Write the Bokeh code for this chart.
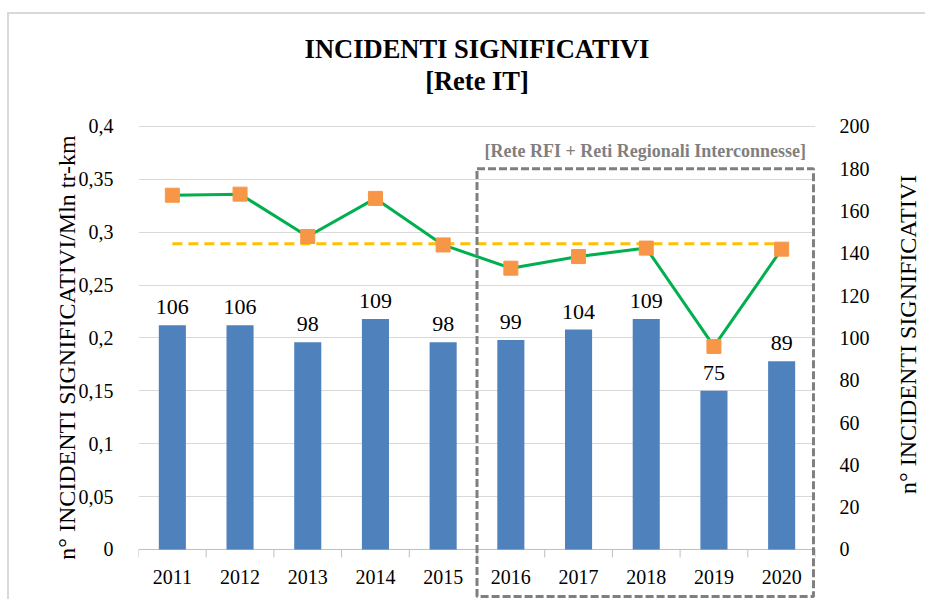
from bokeh.plotting import figure
from bokeh.layouts import row
from bokeh.models import (Range1d, LinearAxis, FixedTicker, CustomJSTickFormatter,
                          BoxAnnotation, Label, ColumnDataSource, Title)
from bokeh.embed import file_html
from bokeh.resources import INLINE
from bokeh.core.properties import value

# ---- data ----
years = ["2011", "2012", "2013", "2014", "2015", "2016", "2017", "2018", "2019", "2020"]
incidents = [106, 106, 98, 109, 98, 99, 104, 109, 75, 89]
rate = [0.335, 0.336, 0.296, 0.332, 0.288, 0.266, 0.277, 0.285, 0.192, 0.284]
rate_mean = 0.289
left_ticks = [0, 0.05, 0.1, 0.15, 0.2, 0.25, 0.3, 0.35, 0.4]
right_ticks = [0, 20, 40, 60, 80, 100, 120, 140, 160, 180, 200]

FONT = "Liberation Serif"
xs = list(range(len(years)))
bounds = [i - 0.5 for i in range(len(years) + 1)]

# frame covers the area from just below the titles to the bottom of the page,
# so the x axis (at 0) and the dashed box can be drawn inside it
Y0, Y1 = -0.0473, 0.4293
K = 200 / 0.4  # ratio between right and left scale
PX = 1057.5    # pixels per left-axis unit
GRID = "#d9d9d9"
BORDER_BG = ("linear-gradient(#d9d9d9, #d9d9d9) 7px 12px / 2px 100% no-repeat, "
             "linear-gradient(#d9d9d9, #d9d9d9) 7px 12px / 100% 2px no-repeat, white")

p = figure(width=880, height=599, x_range=Range1d(-0.5, 9.5), y_range=Range1d(Y0, Y1),
           output_backend="svg", toolbar_location=None,
           min_border_left=138, min_border_right=65, min_border_top=95, min_border_bottom=0)
p.extra_y_ranges = {"n": Range1d(Y0 * K, Y1 * K)}
p.outline_line_color = None
p.background_fill_color = "white"
p.border_fill_color = None
p.styles = {"background": BORDER_BG}

# titles
p.add_layout(Title(text="[Rete IT]", align="center", text_font=FONT,
                   text_font_size="26.5px", text_font_style="bold", text_color="black",
                   standoff=0), "above")
p.add_layout(Title(text="INCIDENTI SIGNIFICATIVI", align="center", text_font=FONT,
                   text_font_size="26.5px", text_font_style="bold", text_color="black",
                   standoff=0), "above")

# grid
p.xgrid.grid_line_color = None
p.ygrid.grid_line_color = GRID
p.ygrid.grid_line_width = 1
p.ygrid.ticker = FixedTicker(ticks=left_ticks[1:])

# left axis
la = p.yaxis[0]
la.ticker = FixedTicker(ticks=left_ticks)
la.formatter = CustomJSTickFormatter(code="""
if (tick == 0) return '0';
let s = tick.toFixed(2);
if (s.endsWith('0')) s = s.slice(0, -1);
return s.replace('.', ',');
""")
la.axis_label = "n° INCIDENTI SIGNIFICATIVI/Mln tr-km"
la.axis_line_color = None
la.major_tick_line_color = None
la.minor_tick_line_color = None
la.major_label_standoff = 19
la.axis_label_standoff = -4
la.major_label_text_font = FONT
la.major_label_text_font_size = "20px"
la.major_label_text_color = "black"
la.axis_label_text_font = FONT
la.axis_label_text_font_size = "24px"
la.axis_label_text_font_style = "normal"
la.axis_label_text_color = "black"

# right axis (ticks only; its title is drawn by the side panel below)
ra = LinearAxis(y_range_name="n", ticker=FixedTicker(ticks=right_ticks))
ra.axis_line_color = None
ra.major_tick_line_color = None
ra.minor_tick_line_color = None
ra.major_label_standoff = 18
ra.major_label_text_font = FONT
ra.major_label_text_font_size = "20px"
ra.major_label_text_color = "black"
p.add_layout(ra, "right")

# bottom axis drawn at y = 0 inside the frame
p.xaxis.visible = False
p.segment(x0=[bounds[0]], y0=[0], x1=[bounds[-1]], y1=[0],
          line_color="#bfbfbf", line_width=1)
p.segment(x0=bounds, y0=[0] * len(bounds), x1=bounds, y1=[-8 / PX] * len(bounds),
          line_color="#bfbfbf", line_width=1)
p.text(x=xs, y=[0] * len(xs), text=years, text_align="center", text_baseline="middle",
       y_offset=28, text_font=value(FONT), text_font_size="20px", text_color="black")

src = ColumnDataSource(dict(x=xs, n=incidents, r=rate, lab=[str(v) for v in incidents]))

# bars
p.vbar(x="x", top="n", bottom=0, width=0.4, source=src, y_range_name="n",
       fill_color="#4f81bd", line_color=None)

# bar labels
p.text(x="x", y="n", text="lab", source=src, y_range_name="n",
       text_align="center", text_baseline="bottom", y_offset=-11,
       text_font=value(FONT), text_font_size="22px", text_color="black")

# mean dashed line
p.line(x=[xs[0], xs[-1]], y=[rate_mean, rate_mean], line_color="#ffc000",
       line_width=3, line_dash="10 6")

# rate line with markers
p.line(x="x", y="r", source=src, line_color="#00b050", line_width=3)
p.scatter(x="x", y="r", source=src, marker="square", size=14,
          fill_color="#f79646", line_color="#f79646")

# dashed box for RFI + regional networks
box = BoxAnnotation(left=4.5, right=9.47, top=0.36, bottom=-0.0444,
                    fill_color=None, fill_alpha=0, line_alpha=1,
                    line_color="#7f7f7f", line_width=3, line_dash="8 3")
p.add_layout(box)

p.add_layout(Label(x=(4.5 + 9.47) / 2, y=0.377,
                   text="[Rete RFI + Reti Regionali Interconnesse]",
                   text_align="center", text_baseline="middle",
                   text_font=FONT, text_font_size="18px", text_font_style="bold",
                   text_color="#7f7f7f"))

# narrow side panel carrying the right-hand axis title (reads bottom to top)
p2 = figure(width=45, height=573, output_backend="svg", toolbar_location=None,
            min_border_left=40, min_border_right=0, min_border_top=95, min_border_bottom=0,
            x_range=Range1d(0, 1), y_range=Range1d(0, 1))
p2.outline_line_color = None
p2.background_fill_color = "white"
p2.border_fill_color = None
p2.styles = {"background": "linear-gradient(#d9d9d9, #d9d9d9) 0 12px / 100% 2px no-repeat, white"}
p2.grid.grid_line_color = None
p2.xaxis.visible = False
a2 = p2.yaxis[0]
a2.ticker = FixedTicker(ticks=[])
a2.axis_line_color = None
a2.major_tick_line_color = None
a2.minor_tick_line_color = None
a2.axis_label = "n° INCIDENTI SIGNIFICATIVI"
a2.axis_label_standoff = 0
a2.axis_label_text_font = FONT
a2.axis_label_text_font_size = "24px"
a2.axis_label_text_font_style = "normal"
a2.axis_label_text_color = "black"

layout = row(p, p2, spacing=0)
open("out.html", "w").write(file_html(layout, INLINE))
